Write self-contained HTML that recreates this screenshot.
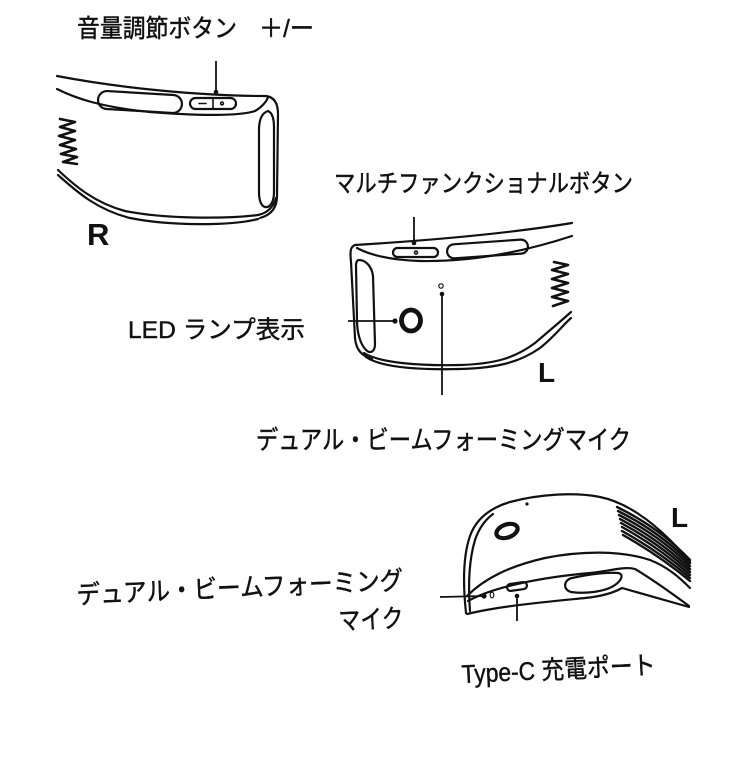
<!DOCTYPE html>
<html>
<head>
<meta charset="utf-8">
<style>
html,body{margin:0;padding:0;background:#fff;}
svg{display:block;}
text{font-family:"Liberation Sans","Noto Sans CJK JP",sans-serif;fill:#111;}
.lb{stroke:#111;stroke-width:0.45;}
.o{fill:none;stroke:#111;stroke-width:2.2;stroke-linecap:round;stroke-linejoin:round;}
.t{fill:none;stroke:#111;stroke-width:1.6;stroke-linecap:round;stroke-linejoin:round;}
.z{fill:none;stroke:#111;stroke-width:2.6;stroke-linecap:round;stroke-linejoin:round;}
</style>
</head>
<body>
<svg width="747" height="772" viewBox="0 0 747 772" xmlns="http://www.w3.org/2000/svg">
<rect width="747" height="772" fill="#fff"/>

<!-- ===== Labels ===== -->
<text class="lb" x="77" y="37" font-size="25" textLength="160" lengthAdjust="spacingAndGlyphs">音量調節ボタン</text>
<text class="lb" x="259" y="37" font-size="25" textLength="55" lengthAdjust="spacingAndGlyphs">＋/ー</text>

<text class="lb" x="334" y="192" font-size="25" textLength="299" lengthAdjust="spacingAndGlyphs">マルチファンクショナルボタン</text>

<text class="lb" x="128" y="338" font-size="24.5" textLength="177" lengthAdjust="spacingAndGlyphs">LED ランプ表示</text>

<text class="lb" x="256" y="449" font-size="26" textLength="375" lengthAdjust="spacingAndGlyphs">デュアル・ビームフォーミングマイク</text>

<g transform="rotate(-2.6 77 604)">
<text class="lb" x="77" y="604" font-size="26" textLength="327" lengthAdjust="spacingAndGlyphs">デュアル・ビームフォーミング</text>
</g>
<g transform="rotate(-2.6 339 630)">
<text class="lb" x="339" y="630" font-size="26" textLength="65" lengthAdjust="spacingAndGlyphs">マイク</text>
</g>

<g transform="rotate(-2.7 462 683)">
<text class="lb" x="462" y="683" font-size="25.5" textLength="194" lengthAdjust="spacingAndGlyphs">Type-C 充電ポート</text>
</g>

<text x="87" y="245" font-size="31" font-weight="bold">R</text>
<text x="538" y="382" font-size="28" font-weight="bold">L</text>
<text x="671" y="527" font-size="28" font-weight="bold">L</text>

<!-- ===== Top device (R) ===== -->
<path class="o" d="M57,76 C120,88 200,96 266,96 C274,97 278,103 278,114 L277,196 C277,208 271,215 260,218"/>
<path class="o" d="M57,89 C75,98 100,107 150,112 C200,116 240,116 255,111 C262,107 267,101 268,97"/>
<rect x="98" y="93" width="84" height="18" rx="9" class="o" transform="rotate(3.4 140 102)"/>
<rect x="190" y="98" width="46" height="11" rx="5.5" class="o"/>
<line x1="213" y1="98" x2="213" y2="109" class="t"/>
<line x1="199" y1="103.5" x2="206" y2="103.5" class="t"/>
<circle cx="222" cy="103.5" r="1.4" class="t"/>
<line x1="216" y1="61" x2="216" y2="91" stroke="#111" stroke-width="1.8"/>
<circle cx="216" cy="92" r="2.3" fill="#111"/>
<path class="o" d="M268,111 C273,113 274,120 274,128 L274,192 C274,202 270,208 265,207 C261,206 259,200 259,192 L259,130 C259,120 262,113 268,111 Z"/>
<polyline class="z" points="60,119 75,122 60,127 75,131 59,136 75,140 60,145 76,149 61,154 77,157 63,162 77,164"/>
<path class="o" d="M58,170 C75,186 95,203 125,211 C165,219 225,219 258,215 C268,213 274,206 276,198"/>
<path class="o" d="M58,175 C78,193 98,210 130,218 C170,226 230,226 258,219"/>

<!-- ===== Middle device (L) ===== -->
<path class="o" d="M355,245 C420,241 500,235 572,223"/>
<path class="o" d="M357,248 C370,255 390,260 420,261 C470,262 520,253 572,236"/>
<path class="o" d="M355,245 C350,247 350,252 351,262 L355,338 C356,350 362,356 372,359"/>
<path class="o" d="M359,260 C366,260 372,267 373,276 L375,344 C375,352 370,354 366,350 C360,344 357,332 357,320 L356,266 C356,262 357,260 359,260 Z"/>
<path class="o" d="M364,353 C380,363 420,366 460,365 C495,364 515,358 535,343 C550,330 560,322 571,312"/>
<path class="o" d="M366,357 C382,368 420,370 460,369 C498,368 520,362 540,348 C555,336 562,326 571,318"/>
<polyline class="z" points="554,262 568,265 552,270 568,274 552,279 568,283 552,288 568,292 552,297 568,301 553,306"/>
<rect x="393" y="248" width="45" height="9" rx="4.5" class="o"/>
<circle cx="416" cy="252.5" r="1.5" class="t"/>
<rect x="447" y="242" width="81" height="14" rx="7" class="o" transform="rotate(-4 487 249)"/>
<line x1="414" y1="217" x2="414" y2="242" stroke="#111" stroke-width="1.8"/>
<circle cx="414" cy="243" r="2.3" fill="#111"/>
<ellipse cx="411" cy="320.5" rx="9.5" ry="10.5" fill="none" stroke="#111" stroke-width="4.8"/>
<line x1="348" y1="321" x2="395" y2="321" stroke="#111" stroke-width="1.8"/>
<circle cx="395" cy="321" r="2.6" fill="#111"/>
<circle cx="441" cy="286" r="2.2" fill="none" stroke="#111" stroke-width="1.2"/>
<circle cx="442" cy="294" r="2.3" fill="#111"/>
<line x1="442" y1="294" x2="442" y2="395" stroke="#111" stroke-width="1.8"/>

<!-- ===== Bottom device (L) ===== -->
<path class="o" stroke-width="2.8" d="M466,613 C463,585 463,556 470,536 C476,519 490,508 510,502 C540,494 575,492 600,497 C625,502 650,520 670,540 C680,550 686,557 690,562"/>
<path class="o" d="M470,611 C468,585 469,560 475,540 C479,528 485,520 493,514"/>
<g fill="none" stroke="#111" stroke-width="2.4" stroke-linecap="round">
<path d="M617,507 Q660,528 690,560"/>
<path d="M618,511 Q660,532 690,563"/>
<path d="M619,515 Q660,536 690,566"/>
<path d="M620,519 Q660,540 690,569"/>
<path d="M621,523 Q660,544 690,572"/>
<path d="M622,527 Q660,548 690,575"/>
<path d="M622,531 Q660,552 690,578"/>
<path d="M623,535 Q660,556 690,581"/>
</g>
<path class="o" d="M467,596 C485,578 510,566 545,558 C580,551 620,550 650,560 C668,567 680,578 690,588"/>
<path class="o" d="M468,601 C495,586 545,577 590,573 C610,571 625,566 635,569 C650,578 670,592 689,606"/>
<path class="o" d="M467,614 C500,606 545,602 585,598 C605,596 615,592 622,588 L689,607"/>
<path class="o" d="M571,592 C563,590 563,580 572,578 C590,574 608,572 618,573 C624,574 622,580 615,585 C605,592 585,594 571,592 Z"/>
<ellipse cx="507" cy="531" rx="11" ry="6.5" fill="none" stroke="#111" stroke-width="4.2" transform="rotate(-20 507 531)"/>
<circle cx="527" cy="504" r="1.6" fill="#111"/>
<rect x="507" y="583" width="20" height="7" rx="3.5" class="o" transform="rotate(-8 517 586.5)"/>
<circle cx="517" cy="596" r="2.3" fill="#111"/>
<line x1="517" y1="596" x2="517" y2="621" stroke="#111" stroke-width="1.8"/>
<circle cx="484" cy="596" r="2.6" fill="#111"/>
<ellipse cx="492" cy="595" rx="1.8" ry="2.8" fill="none" stroke="#111" stroke-width="1.2"/>
<line x1="440" y1="597" x2="484" y2="596" stroke="#111" stroke-width="1.8"/>
</svg>
</body>
</html>
